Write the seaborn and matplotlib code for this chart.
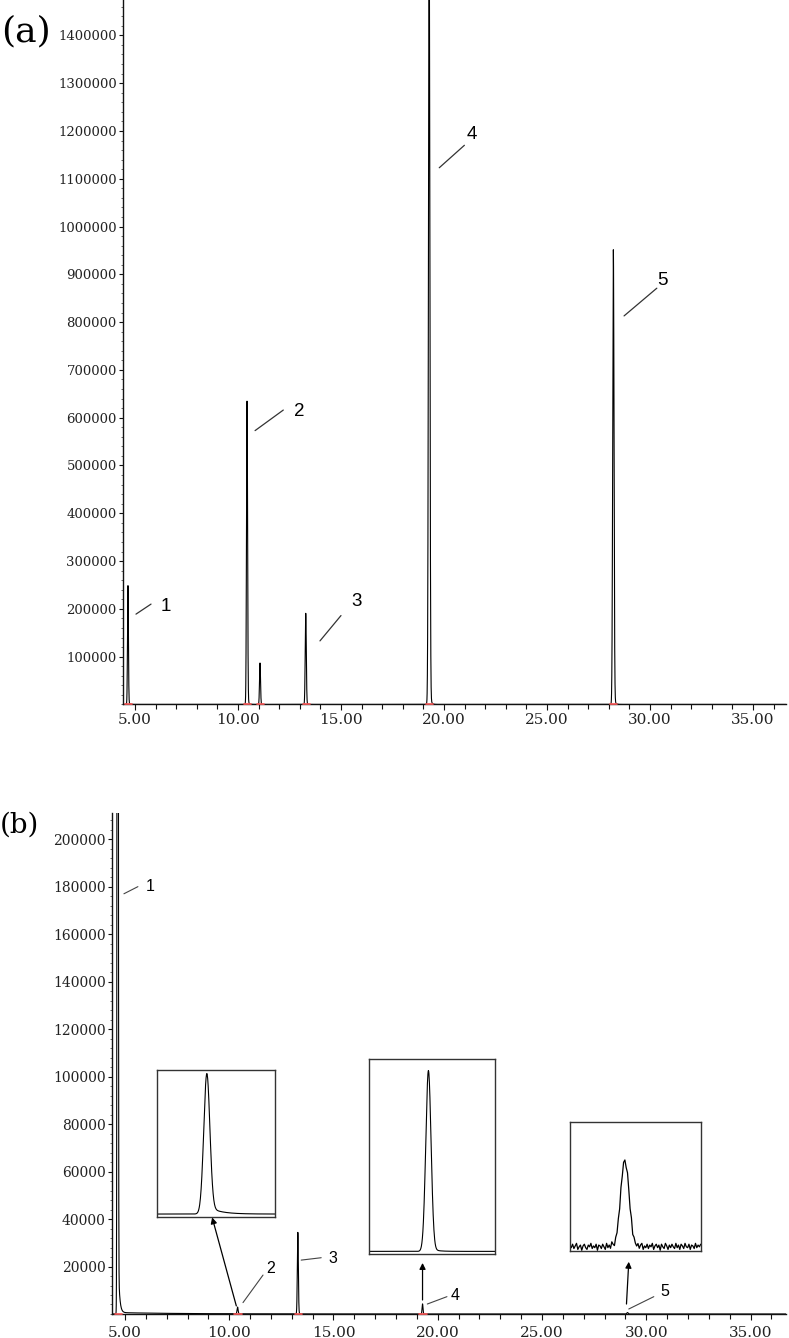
import numpy as np
import pandas as pd
import matplotlib
matplotlib.use("Agg")
import matplotlib.pyplot as plt
import seaborn as sns
from matplotlib.ticker import FixedLocator, MultipleLocator

# ---------------- data ----------------
# panel (a): peak retention times (min), heights, widths
a_peak_times = [4.66, 10.44, 11.07, 13.29, 19.28, 28.22]
a_peak_heights = [245000, 629000, 86000, 189000, 1600000, 942000]
a_peak_sigmas = [0.022, 0.026, 0.024, 0.026, 0.034, 0.032]
a_peak_tails = [0.03, 0.02, 0.02, 0.02, 0.02, 0.02]

a_xticks = [5, 10, 15, 20, 25, 30, 35]
a_xticklabels = ["5.00", "10.00", "15.00", "20.00", "25.00", "30.00", "35.00"]
a_yticks = [100000, 200000, 300000, 400000, 500000, 600000, 700000,
            800000, 900000, 1000000, 1100000, 1200000, 1300000, 1400000]

a_labels = ["1", "2", "3", "4", "5"]
a_line_x0 = [5.05, 10.83, 13.98, 19.77, 28.74]
a_line_y0 = [189000, 573000, 133000, 1123000, 813000]
a_line_x1 = [5.78, 12.20, 15.00, 20.99, 30.33]
a_line_y1 = [210000, 616000, 186000, 1170000, 871000]
a_text_x = [6.50, 12.96, 15.76, 21.35, 30.60]
a_text_y = [206000, 614000, 215000, 1193000, 888000]

# panel (b)
b_peak_times = [4.65, 10.40, 13.29, 19.27, 29.10]
b_peak_heights = [1200000, 2800, 34000, 4200, 600]
b_peak_sigmas = [0.020, 0.025, 0.024, 0.022, 0.032]
b_peak_tails = [0.03, 0.03, 0.02, 0.02, 0.0]

b_xticks = [5, 10, 15, 20, 25, 30, 35]
b_xticklabels = ["5.00", "10.00", "15.00", "20.00", "25.00", "30.00", "35.00"]
b_yticks = [20000, 40000, 60000, 80000, 100000, 120000, 140000,
            160000, 180000, 200000]

b_labels = ["1", "2", "3", "4", "5"]
b_line_x0 = [4.95, 10.66, 13.45, 19.50, 29.16]
b_line_y0 = [177000, 4800, 22700, 4200, 2100]
b_line_x1 = [5.62, 11.62, 14.41, 20.44, 30.36]
b_line_y1 = [180000, 16400, 23700, 7300, 7300]
b_text_x = [6.20, 11.97, 14.96, 20.82, 30.87]
b_text_y = [180000, 19200, 23500, 8000, 9400]

# arrows from peaks to insets (panel b)
b_arrow_x0 = [10.34, 19.27, 29.05]
b_arrow_y0 = [3400, 5900, 4200]
b_arrow_x1 = [9.18, 19.27, 29.16]
b_arrow_y1 = [40700, 21500, 22000]

# insets: window (min) and normalised peak shape
inset_t_start = [9.98, 18.80, 28.68]
inset_t_end = [10.98, 19.80, 29.68]
inset_peak_t = [10.40, 19.27, 29.10]
inset_sigma = [0.026, 0.021, 0.032]
inset_tail = [0.06, 0.02, 0.0]
inset_ylo = [-0.024, -0.016, -0.044]
inset_yhi = [1.056, 1.073, 1.435]
inset_noise_c = [0.02, -0.01, 0.03, -0.02, 0.01, 0.04, -0.03, 0.00, 0.02, -0.04,
                 0.01, 0.03, -0.01, -0.03, 0.02, 0.00, 0.04, -0.02, 0.01, -0.01,
                 0.03, -0.04, 0.02, 0.01, -0.02, 0.03, 0.00, -0.03, 0.04, -0.01,
                 0.02, -0.02, 0.05, 0.01, -0.03, 0.02, -0.01, 0.03, -0.02, 0.04,
                 -0.01, 0.02, 0.00, -0.04, 0.03, 0.01, -0.02, 0.04, -0.03, 0.02,
                 0.00, -0.01, 0.03, -0.02, 0.02, 0.04, -0.03, 0.01, -0.01, 0.03,
                 -0.02, 0.02, 0.00, 0.04, -0.03, 0.01, 0.03, -0.01, 0.02, -0.04,
                 0.03, 0.00, -0.02, 0.04, 0.01, -0.03, 0.02, -0.01, 0.03, 0.00,
                 -0.02, 0.04, -0.01, 0.02, -0.03, 0.03, 0.01, -0.02, 0.04, 0.00,
                 -0.01, 0.03, -0.03, 0.02, 0.01, -0.02, 0.04, -0.01, 0.02, 0.00, 0.03]

# solvent baseline drift in (b)
b_drift_height = 600
b_drift_tau = 3.0


# ---------------- helpers ----------------
def chromatogram(t, times, heights, sigmas, tails, tau=0.06):
    y = np.zeros_like(t)
    for t0, h, s, a in zip(times, heights, sigmas, tails):
        g = np.exp(-0.5 * ((t - t0) / s) ** 2)
        tail = a * np.exp(-np.clip(t - t0, 0, None) / tau) * 0.5 * (1 + np.tanh((t - t0) / s))
        y += h * (g + tail)
    return y


sns.set_theme(style="ticks")
plt.rcParams["font.family"] = ["DejaVu Serif"]

fig = plt.figure(figsize=(7.89, 13.38), dpi=100)

ink = "#222222"


def style_axes(ax, xlim, ylim, xticks, xticklabels, yticks, yminor, ylabsize, xpad):
    ax.set_xlim(*xlim)
    ax.set_ylim(*ylim)
    for side in ["top", "right"]:
        ax.spines[side].set_visible(False)
    for side in ["left", "bottom"]:
        ax.spines[side].set_color("#111111")
        ax.spines[side].set_linewidth(1.0)
    ax.xaxis.set_major_locator(FixedLocator(xticks))
    ax.set_xticklabels(xticklabels)
    ax.xaxis.set_minor_locator(MultipleLocator(1))
    ax.yaxis.set_major_locator(FixedLocator(yticks))
    ax.set_yticklabels([str(v) for v in yticks])
    ax.yaxis.set_minor_locator(MultipleLocator(yminor))
    ax.tick_params(axis="x", which="major", direction="out", length=4.5, width=0.8,
                   color="#111111", labelsize=11, labelcolor=ink, pad=xpad)
    ax.tick_params(axis="x", which="minor", direction="out", length=3.5, width=0.8,
                   color="#111111")
    ax.tick_params(axis="y", which="major", direction="out", length=3, width=0.8,
                   color="#111111", labelsize=ylabsize, labelcolor=ink, pad=1.5)
    ax.tick_params(axis="y", which="minor", direction="out", length=1.8, width=0.6,
                   color="#555555")
    ax.set_xlabel("")
    ax.set_ylabel("")
    ax.set_facecolor("white")


# ---------------- panel (a) ----------------
ax_a = fig.add_axes([0.1559, 0.4735, 0.8403, 0.5265])
t_a = np.arange(4.40, 36.70, 0.003)
y_a = chromatogram(t_a, a_peak_times, a_peak_heights, a_peak_sigmas, a_peak_tails)
df_a = pd.DataFrame({"time": t_a, "signal": y_a})
sns.lineplot(data=df_a, x="time", y="signal", ax=ax_a, color="black", linewidth=0.8,
             estimator=None, sort=False)
for t0 in a_peak_times:
    ax_a.plot([t0 - 0.15, t0 + 0.2], [0, 0], color="#ff5a5a", lw=1.2, zorder=3, clip_on=False)
style_axes(ax_a, (4.42, 36.6), (0, 1474000), a_xticks, a_xticklabels, a_yticks,
           20000, 9.5, 1.5)
for lab, x0, y0, x1, y1, tx, ty in zip(a_labels, a_line_x0, a_line_y0, a_line_x1,
                                       a_line_y1, a_text_x, a_text_y):
    ax_a.plot([x0, x1], [y0, y1], color="#333333", lw=0.9)
    ax_a.text(tx, ty, lab, ha="center", va="center", fontsize=13.5,
              family="Liberation Sans", color="black")

fig.text(0.002, 1 - 31 / 1338, "(a)", fontsize=26, va="center", ha="left",
         family="DejaVu Serif", color="black")

# ---------------- panel (b) ----------------
ax_b = fig.add_axes([0.1420, 0.01794, 0.8542, 0.3744])
t_b = np.arange(4.30, 36.80, 0.002)
y_b = chromatogram(t_b, b_peak_times, b_peak_heights, b_peak_sigmas, b_peak_tails)
y_b += b_drift_height * np.exp(-np.clip(t_b - b_peak_times[0], 0, None) / b_drift_tau) * \
    0.5 * (1 + np.tanh((t_b - b_peak_times[0]) / 0.05))
df_b = pd.DataFrame({"time": t_b, "signal": y_b})
sns.lineplot(data=df_b, x="time", y="signal", ax=ax_b, color="black", linewidth=0.8,
             estimator=None, sort=False)
for t0 in b_peak_times[:4]:
    ax_b.plot([t0 - 0.15, t0 + 0.2], [0, 0], color="#ff5a5a", lw=1.2, zorder=3, clip_on=False)
style_axes(ax_b, (4.38, 36.7), (0, 211000), b_xticks, b_xticklabels, b_yticks,
           4000, 10, 4)
for lab, x0, y0, x1, y1, tx, ty in zip(b_labels, b_line_x0, b_line_y0, b_line_x1,
                                       b_line_y1, b_text_x, b_text_y):
    ax_b.plot([x0, x1], [y0, y1], color="#444444", lw=0.8)
    ax_b.text(tx, ty, lab, ha="center", va="center", fontsize=11.5,
              family="Liberation Sans", color="black")
for x0, y0, x1, y1 in zip(b_arrow_x0, b_arrow_y0, b_arrow_x1, b_arrow_y1):
    ax_b.annotate("", xy=(x1, y1), xytext=(x0, y0),
                  arrowprops=dict(arrowstyle="-|>", color="black", lw=0.9,
                                  mutation_scale=9, shrinkA=0, shrinkB=0))

fig.text(0.0, 1 - 825 / 1338, "(b)", fontsize=20, va="center", ha="left",
         family="DejaVu Serif", color="black")

# ---------------- insets ----------------
inset_boxes = [[0.1994, 0.0902, 0.1492, 0.1101],
               [0.4681, 0.0626, 0.1593, 0.1457],
               [0.7224, 0.0653, 0.1657, 0.0960]]
for i, box in enumerate(inset_boxes):
    axi = fig.add_axes(box)
    if i == 2:
        ti = np.linspace(inset_t_start[i], inset_t_end[i], len(inset_noise_c))
        yi = chromatogram(ti, [inset_peak_t[i]], [1.0], [inset_sigma[i]], [inset_tail[i]])
        yi = yi + np.array(inset_noise_c)
        lw = 0.9
    else:
        ti = np.arange(inset_t_start[i], inset_t_end[i], 0.002)
        yi = chromatogram(ti, [inset_peak_t[i]], [1.0], [inset_sigma[i]], [inset_tail[i]],
                          tau=0.1 if i == 0 else 0.05)
        lw = 0.8
    sns.lineplot(x=ti, y=yi, ax=axi, color="black", linewidth=lw, estimator=None, sort=False)
    axi.set_xlim(inset_t_start[i], inset_t_end[i])
    axi.set_ylim(inset_ylo[i], inset_yhi[i])
    axi.set_xticks([])
    axi.set_yticks([])
    axi.set_xlabel("")
    axi.set_ylabel("")
    for s in axi.spines.values():
        s.set_visible(True)
        s.set_color("#333333")
        s.set_linewidth(1.0)
    axi.set_facecolor("white")

fig.savefig("out.png", dpi=100, facecolor="white")
